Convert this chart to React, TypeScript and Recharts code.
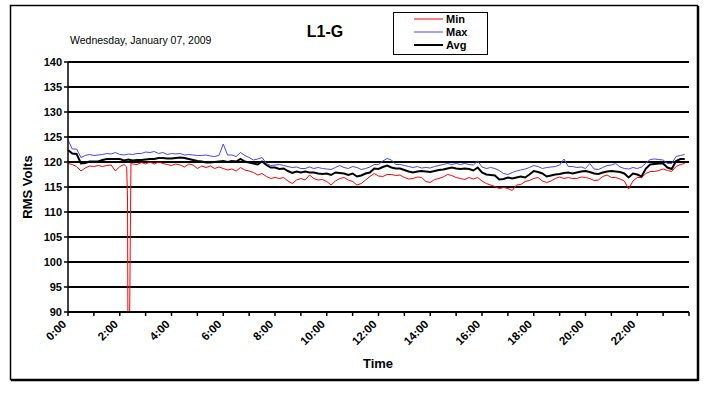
import React from 'react';
import { LineChart, Line, XAxis, YAxis, CartesianGrid, Legend } from 'recharts';

const FONT = '"Liberation Sans", Arial, Helvetica, sans-serif';

// minutes since midnight (10-minute samples, with extra samples around the 2:16 sag)
const times = [
  0, 10, 20, 30, 40, 50,
  60, 70, 80, 90, 100, 110,
  120, 130, 136, 138, 140, 146, 150, 160, 170,
  180, 190, 200, 210, 220, 230,
  240, 250, 260, 270, 280, 290,
  300, 310, 320, 330, 340, 350,
  360, 370, 380, 390, 400, 410,
  420, 430, 440, 450, 460, 470,
  480, 490, 500, 510, 520, 530,
  540, 550, 560, 570, 580, 590,
  600, 610, 620, 630, 640, 650,
  660, 670, 680, 690, 700, 710,
  720, 730, 740, 750, 760, 770,
  780, 790, 800, 810, 820, 830,
  840, 850, 860, 870, 880, 890,
  900, 910, 920, 930, 940, 950,
  960, 970, 980, 990, 1000, 1010,
  1020, 1030, 1040, 1050, 1060, 1070,
  1080, 1090, 1100, 1110, 1120, 1130,
  1140, 1150, 1160, 1170, 1180, 1190,
  1200, 1210, 1220, 1230, 1240, 1250,
  1260, 1270, 1280, 1290, 1300, 1310,
  1320, 1330, 1340, 1350, 1360, 1370,
  1380, 1390, 1400, 1410, 1420, 1430,
];

const minValues = [
  119.7, 119.5, 119.1, 118.2, 118.8, 119.2,
  119.1, 119.3, 119.1, 119.3, 119.4, 118.2,
  119.1, 119.5, 119.0, 113.0, 60, 119.8, 119.6, 119.5, 119.9,
  119.6, 120.0, 119.6, 120.0, 119.7, 119.5,
  119.3, 119.6, 119.4, 119.0, 119.6, 119.4,
  118.7, 119.2, 118.9, 119.2, 118.7, 119.0,
  118.7, 118.4, 118.6, 118.2, 118.9, 118.4,
  118.2, 117.9, 117.4, 117.7, 117.1, 116.7,
  116.9, 116.7, 116.9, 116.2, 115.7, 116.4,
  116.7, 116.4, 117.4, 116.7, 116.4, 116.5,
  116.1, 115.4, 116.2, 116.7, 116.9, 116.4,
  116.1, 115.4, 115.7, 116.4, 117.1, 117.7,
  117.2, 117.1, 117.5, 117.5, 117.3, 117.4,
  116.9, 116.6, 116.7, 117.0, 116.9, 116.1,
  115.9, 116.5, 116.7, 117.0, 117.5, 117.3,
  116.9, 116.7, 116.5, 116.9, 116.6, 116.9,
  116.2, 115.7, 115.4, 115.1, 114.7, 114.9,
  114.7, 114.3, 115.4, 115.5, 116.1, 116.3,
  116.7, 116.9, 116.2, 115.9, 116.2, 116.7,
  117.0, 116.7, 116.9, 116.7, 116.7, 117.0,
  116.9, 116.7, 116.3, 116.4, 117.1, 117.4,
  116.9, 116.9, 116.6, 116.2, 114.6, 116.2,
  116.9, 116.9, 117.7, 118.1, 118.1, 118.3,
  118.6, 118.3, 118.1, 119.1, 119.5, 119.7,
];

const maxValues = [
  124.4, 122.6, 122.6, 120.9, 121.3, 121.5,
  121.3, 121.4, 121.5, 121.7, 121.6, 121.9,
  121.5, 121.4, null, null, 121.6, null, 121.5, 121.7, 121.7,
  122.0, 121.9, 122.1, 121.7, 121.9, 121.5,
  121.7, 121.6, 121.7, 121.4, 121.5, 121.4,
  121.3, 121.3, 121.4, 121.2, 121.1, 121.3,
  123.6, 121.4, 121.4, 121.1, 121.9, 121.3,
  120.9, 120.4, 120.6, 120.9, 119.7, 119.3,
  119.4, 119.5, 119.3, 119.1, 118.9, 119.0,
  118.7, 118.7, 119.0, 118.7, 118.9, 118.7,
  118.6, 118.5, 118.9, 119.3, 118.9, 118.7,
  119.1, 118.9, 118.5, 118.7, 119.0, 119.5,
  119.5, 120.2, 120.7, 120.4, 119.5, 119.5,
  119.3, 119.1, 118.9, 119.1, 118.8, 118.9,
  118.8, 119.1, 119.3, 119.5, 119.7, 119.5,
  119.7, 119.5, 119.7, 119.5, 119.4, 120.2,
  119.0, 118.7, 118.9, 118.7, 118.3, 117.7,
  117.5, 117.9, 118.2, 118.4, 118.6, 118.9,
  119.3, 119.1, 118.7, 118.9, 119.0, 119.1,
  119.4, 120.6, 119.1, 119.1, 118.9, 119.0,
  118.7, 119.7, 118.6, 118.5, 118.9, 119.3,
  119.4, 119.7, 119.0, 118.7, 118.6, 118.9,
  118.7, 119.0, 119.8, 120.5, 120.6, 120.5,
  120.4, 119.7, 119.7, 121.1, 121.3, 121.5,
];

const avgValues = [
  122.4, 121.7, 121.6, 119.7, 119.8, 120.1,
  120.1, 120.1, 120.4, 120.6, 120.6, 120.6,
  120.6, 120.3, null, null, 120.5, null, 120.3, 120.4, 120.4,
  120.5, 120.6, 120.6, 120.8, 120.8, 120.7,
  120.7, 120.8, 120.9, 120.8, 120.6, 120.4,
  120.2, 120.1, 119.9, 119.9, 120.0, 120.1,
  120.2, 120.0, 120.2, 120.1, 120.6, 120.1,
  119.9, 119.7, 119.5, 120.1, 119.4, 118.9,
  118.9, 118.6, 118.7, 118.2, 117.8, 118.1,
  117.9, 118.1, 117.9, 117.9, 117.7, 117.6,
  117.7, 117.4, 117.9, 117.8, 117.7, 117.4,
  117.7, 117.1, 117.3, 117.7, 117.9, 118.7,
  118.6, 119.0, 119.3, 118.9, 118.7, 118.7,
  118.4, 118.1, 117.9, 118.1, 118.2, 118.1,
  118.0, 118.2, 118.4, 118.5, 118.7, 118.9,
  118.7, 118.6, 118.7, 118.6, 118.3, 118.9,
  117.9, 117.5, 117.4, 117.3, 116.5, 116.6,
  116.9, 116.7, 116.9, 117.1, 116.9, 117.5,
  118.2, 118.0, 117.7, 117.1, 117.3, 117.5,
  117.6, 117.8, 117.9, 117.7, 117.9, 118.1,
  118.2, 118.0, 117.7, 117.6, 117.9, 118.1,
  118.2, 118.1, 118.0, 117.7, 116.9, 117.7,
  117.5, 117.1, 118.7, 119.5, 119.6, 119.7,
  119.7, 118.9, 118.6, 120.2, 120.6, 120.6,
];

const yTicks = [90, 95, 100, 105, 110, 115, 120, 125, 130, 135, 140];
const xTicks = [
  0, 60, 120, 180, 240, 300, 360, 420, 480, 540, 600, 660,
  720, 780, 840, 900, 960, 1020, 1080, 1140, 1200, 1260, 1320, 1380, 1440,
];

const seriesNames = ['Min', 'Max', 'Avg'];
const seriesColors = ['#ff0000', '#4444ff', '#000000'];
const seriesWidths = [1, 1, 2];

const titleText = 'L1-G';
const dateText = 'Wednesday, January 07, 2009';
const yTitle = 'RMS Volts';
const xTitle = 'Time';

const data = times.map((t, i) => ({
  t,
  Min: minValues[i],
  Max: maxValues[i],
  Avg: avgValues[i],
}));

const XTick = (props: any) => {
  const { x, y, payload } = props;
  const h = payload.value / 60;
  if (h % 2 !== 0 || h >= 24) return <g />;
  const px = x - 1;
  const py = y + 7;
  return (
    <text
      x={px}
      y={py}
      transform={`rotate(-45 ${px} ${py})`}
      textAnchor="end"
      fontSize={11.5}
      fontWeight="bold"
      fontFamily={FONT}
      fill="#000"
    >
      {`${h}:00`}
    </text>
  );
};

const LegendBox = () => (
  <svg width={96} height={44} style={{ display: 'block' }}>
    <rect x={0.5} y={0.5} width={94} height={42} fill="#fff" stroke="#000" strokeWidth={1} />
    {seriesNames.map((n, i) => (
      <g key={n}>
        <line
          x1={21}
          x2={50}
          y1={7 + i * 13}
          y2={7 + i * 13}
          stroke={seriesColors[i]}
          strokeWidth={seriesWidths[i]}
        />
        <text
          x={53}
          y={11 + i * 13}
          fontSize={11}
          fontWeight="bold"
          fontFamily={FONT}
          fill="#000"
        >
          {n}
        </text>
      </g>
    ))}
  </svg>
);

export default function App() {
  return (
    <div style={{ position: 'absolute', left: 0, top: 0, width: 710, height: 399, background: '#fff', fontFamily: FONT }}>
      <svg width={710} height={399} style={{ position: 'absolute', left: 0, top: 0 }}>
        <rect x={10.5} y={5.5} width={687} height={374} fill="#fff" stroke="#000" strokeWidth={1.5} />
        <line x1={11} y1={380.5} x2={698.5} y2={380.5} stroke="#000" strokeWidth={1.5} />
        <line x1={698.5} y1={6} x2={698.5} y2={381} stroke="#000" strokeWidth={1.5} />
        <text x={325} y={37} textAnchor="middle" fontSize={16} fontWeight="bold" fontFamily={FONT} fill="#000">
          {titleText}
        </text>
        <text x={70} y={44} fontSize={10.5} fontFamily={FONT} fill="#000">
          {dateText}
        </text>
        <text
          x={32}
          y={187}
          transform="rotate(-90 32 187)"
          textAnchor="middle"
          fontSize={13}
          fontWeight="bold"
          fontFamily={FONT}
          fill="#000"
        >
          {yTitle}
        </text>
        <text x={378} y={368} textAnchor="middle" fontSize={13} fontWeight="bold" fontFamily={FONT} fill="#000">
          {xTitle}
        </text>
      </svg>
      <div style={{ position: 'absolute', left: 0, top: 0 }}>
        <LineChart width={710} height={399} data={data} margin={{ top: 62, right: 21, bottom: 0, left: 8 }}>
          <CartesianGrid vertical={false} stroke="#000" strokeWidth={2} />
          <XAxis
            dataKey="t"
            type="number"
            domain={[0, 1440]}
            ticks={xTicks}
            interval={0}
            tick={<XTick />}
            tickSize={4}
            tickMargin={2}
            height={87}
            axisLine={{ stroke: '#000', strokeWidth: 2 }}
            tickLine={{ stroke: '#000', strokeWidth: 1.5 }}
          />
          <YAxis
            domain={[90, 140]}
            ticks={yTicks}
            interval={0}
            allowDataOverflow
            width={60}
            tickSize={4}
            tickMargin={2}
            tick={{ fill: '#000', fontSize: 11, fontWeight: 'bold', fontFamily: FONT }}
            axisLine={{ stroke: '#000', strokeWidth: 1.5 }}
            tickLine={{ stroke: '#000', strokeWidth: 1.5 }}
          />
          <Legend
            layout="horizontal"
            verticalAlign="middle"
            align="center"
            content={<LegendBox />}
            wrapperStyle={{ position: 'absolute', left: 393, top: 12, width: 96, height: 44 }}
          />
          {seriesNames.map((n, i) => (
            <Line
              key={n}
              dataKey={n}
              type="linear"
              stroke={seriesColors[i]}
              strokeWidth={seriesWidths[i]}
              dot={false}
              activeDot={false}
              connectNulls
              isAnimationActive={false}
            />
          ))}
        </LineChart>
      </div>
    </div>
  );
}
